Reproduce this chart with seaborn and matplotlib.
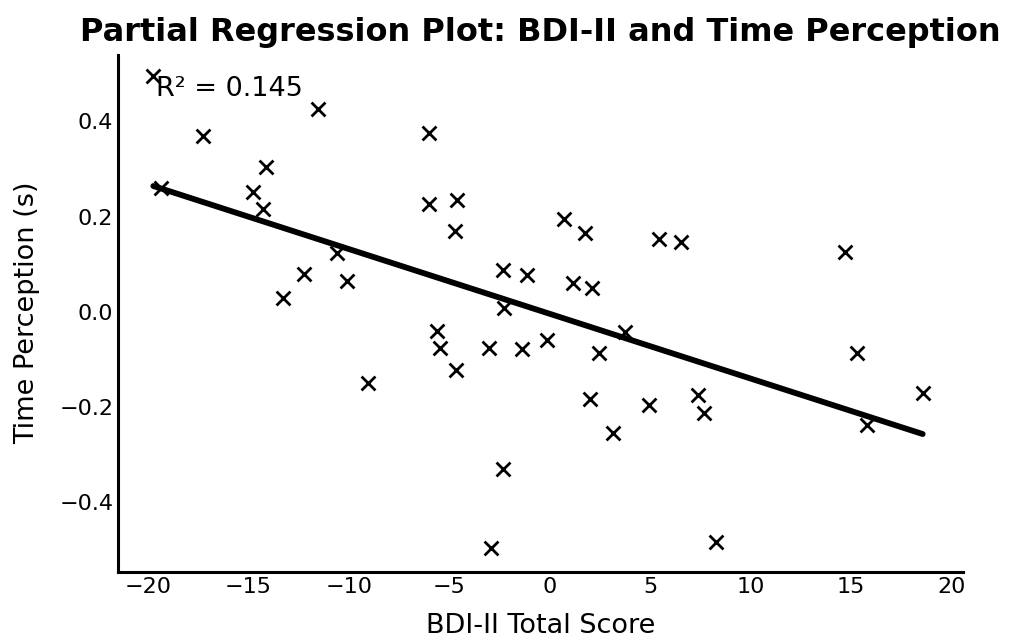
import numpy as np
import pandas as pd
import matplotlib
matplotlib.use("Agg")
import matplotlib.pyplot as plt
import seaborn as sns

bdi_resid = [-19.74, -11.52, -17.25, -14.12, -19.37, -14.79, -14.26, -10.58, -12.24, -10.11,
             -13.30, -6.00, -6.00, -4.60, -4.70, 0.71, 1.74, 5.46, 6.52, -2.34,
             -1.15, 1.15, 2.11, -2.28, -5.63, -5.46, -3.01, -1.39, -0.12, 3.75,
             2.45, -4.67, 2.01, 4.96, 7.40, 7.68, 3.17, -2.34, -2.94, 8.28,
             -9.06, 14.71, 15.29, 18.58, 15.82]
time_resid = [0.495, 0.425, 0.369, 0.305, 0.259, 0.252, 0.216, 0.123, 0.079, 0.064,
              0.029, 0.375, 0.226, 0.235, 0.170, 0.195, 0.166, 0.152, 0.147, 0.088,
              0.077, 0.061, 0.050, 0.007, -0.040, -0.077, -0.077, -0.079, -0.059, -0.042,
              -0.086, -0.122, -0.183, -0.196, -0.175, -0.213, -0.255, -0.331, -0.497, -0.483,
              -0.149, 0.125, -0.086, -0.170, -0.238]
r2_label = "R² = 0.145"
title = "Partial Regression Plot: BDI-II and Time Perception"
xlabel = "BDI-II Total Score"
ylabel = "Time Perception (s)"
xticks = [-20, -15, -10, -5, 0, 5, 10, 15, 20]
yticks = [-0.4, -0.2, 0.0, 0.2, 0.4]

df = pd.DataFrame({"bdi": bdi_resid, "tp": time_resid})

sns.set_style("white")
plt.rcParams['font.family'] = ['DejaVu Sans']
plt.rcParams['text.color'] = 'black'
plt.rcParams['axes.labelcolor'] = 'black'
plt.rcParams['xtick.color'] = 'black'
plt.rcParams['ytick.color'] = 'black'

fig = plt.figure(figsize=(10.13, 6.4), dpi=100)
ax = fig.add_axes([0.1165, 0.1067, 0.8338, 0.8078])

sns.regplot(data=df, x="bdi", y="tp", ax=ax, ci=None, marker="x",
            scatter_kws=dict(color="black", s=100, linewidths=2.0, alpha=1),
            line_kws=dict(color="black", lw=4.2))

ax.set_xlim(-21.5, 20.57)
ax.set_ylim(-0.546, 0.54)
ax.set_xticks(xticks)
ax.set_yticks(yticks)
ax.tick_params(direction="in", labelsize=16, width=1.6, length=5, colors="black")
ax.set_xlabel(xlabel, fontsize=19.5, labelpad=12, color="black")
ax.set_ylabel(ylabel, fontsize=19.5, labelpad=14, color="black")
ax.set_title(title, fontsize=23, fontweight="bold", pad=10, color="black")
for s in ["top", "right"]:
    ax.spines[s].set_visible(False)
for s in ["left", "bottom"]:
    ax.spines[s].set_linewidth(2.2)
    ax.spines[s].set_color("black")
ax.text(0.045, 0.958, r2_label, transform=ax.transAxes, fontsize=19.5, va="top", ha="left",
        color="black")

fig.savefig("out.png", dpi=100)
